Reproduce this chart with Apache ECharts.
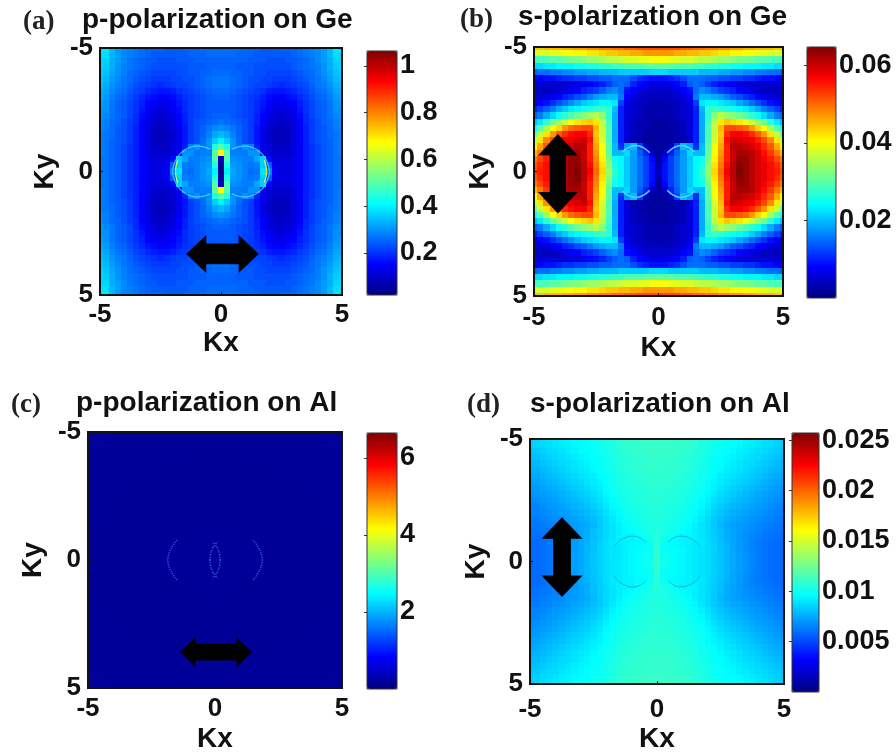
<!DOCTYPE html>
<html><head><meta charset="utf-8">
<style>html,body{margin:0;padding:0;background:#fff}#c{width:896px;height:756px;filter:blur(0.7px)}</style>
<script src="https://cdn.jsdelivr.net/npm/echarts@6/dist/echarts.min.js"></script>
</head><body><div id="c"></div>
<script>
// Values. Each table is the Kx>=0, |Ky| quadrant: rows Ky=5..0, columns Kx=0..5.
// panel a, unit 0.01, step 0.25
const aRows = [
[26,26,26,26,25,25,25,24,24,24,25,25,25,26,27,28,29,31,34,39,38],
[26,26,26,25,25,25,24,24,24,24,24,24,25,26,27,28,29,31,34,38,38],
[25,25,25,25,25,24,24,24,23,23,23,24,24,25,26,27,29,31,33,37,37],
[25,25,25,24,24,24,23,23,23,23,23,23,24,25,26,27,28,30,33,36,37],
[26,26,25,25,24,24,23,23,22,22,22,22,23,24,25,26,28,30,32,35,36],
[27,27,26,25,24,23,23,22,22,21,21,21,22,23,24,26,27,29,31,34,35],
[27,27,26,25,24,23,22,22,21,20,19,20,21,22,23,25,27,28,30,33,34],
[26,26,25,24,23,22,21,20,18,17,17,18,19,21,22,24,26,27,29,32,33],
[25,25,24,23,22,21,20,18,16,15,15,16,17,19,21,23,25,26,28,31,32],
[24,24,24,23,22,21,19,17,15,13,13,14,15,18,20,22,24,25,27,30,31],
[24,24,24,23,22,21,19,16,14,12,11,12,14,17,20,22,24,25,27,30,30],
[25,25,24,23,22,21,18,15,12,11,10,11,13,16,19,22,24,25,27,29,30],
[27,26,25,24,23,21,18,15,12,10,9,10,12,15,19,21,23,25,26,28,29],
[30,29,27,25,23,21,17,13,11,9,8,9,12,15,18,21,23,24,26,28,29],
[34,32,28,25,23,21,17,13,10,8,8,9,11,15,18,21,23,24,26,27,28],
[40,36,30,26,23,21,17,13,10,9,8,9,11,15,18,21,23,24,25,27,28],
[50,44,30,27,30,28,18,13,11,9,9,10,12,15,18,20,22,24,25,27,28],
[68,50,28,28,27,30,30,14,11,10,10,10,12,15,18,20,22,24,25,27,28],
[10,50,30,29,28,28,32,36,16,11,11,11,13,15,18,20,22,24,25,27,27],
[5,44,31,30,28,27,28,36,24,13,12,12,13,15,18,20,22,24,25,27,27],
[3,40,32,30,28,26,27,38,28,14,12,12,13,15,18,20,22,24,25,27,27]];
// panel b, unit 0.001, step 0.25
const bRows = [
[52,52,52,52,51,51,50,50,49,49,48,48,47,47,46,46,45,45,45,44,44],
[47,47,47,46,46,45,45,44,44,43,42,42,41,41,40,40,39,39,38,38,38],
[40,40,39,39,38,38,37,36,36,35,34,34,33,32,32,31,30,30,29,29,28],
[30,30,30,29,29,29,28,28,27,27,26,26,25,25,24,24,24,23,23,22,22],
[22,22,21,21,21,21,21,20,20,20,19,19,18,18,17,17,16,16,15,15,14],
[9,9,10,11,13,15,15,15,14,14,13,13,12,12,11,11,10,9,9,8,8],
[6,6,7,8,10,14,15,14,12,10,9,8,7,6,6,5,5,5,5,5,6],
[5,5,5,6,8,9,15,17,16,14,12,11,10,8,7,6,5,4,4,4,5],
[4,4,4,5,6,8,16,20,20,19,18,16,14,13,11,10,8,7,6,5,5],
[3,3,4,4,5,7,12,23,24,24,23,22,21,19,17,15,13,11,9,8,7],
[3,3,3,4,5,6,10,20,27,28,27,26,25,24,23,21,19,16,14,12,10],
[3,3,3,4,5,6,10,19,27,33,36,34,33,31,29,27,25,22,19,16,14],
[2,2,3,3,4,6,10,19,28,36,42,44,43,42,40,37,34,31,27,23,20],
[2,2,3,3,4,6,10,19,29,37,45,52,52,51,50,47,43,40,35,30,25],
[2,2,2,3,4,6,10,19,29,37,44,54,57,57,56,54,51,47,42,37,31],
[2,2,2,3,3,5,10,19,29,38,45,56,60,59,58,57,55,52,48,42,37],
[2,2,4,12,20,18,11,20,30,40,46,55,61,61,60,59,57,54,51,46,41],
[2,4,10,14,18,22,20,20,30,40,47,55,60,62,62,61,59,56,53,49,45],
[2,8,12,15,18,21,24,25,32,41,48,55,60,63,63,61,59,57,55,52,49],
[3,9,12,15,18,21,24,26,33,42,49,56,61,64,63,61,59,58,56,54,51],
[4,9,12,15,18,21,24,27,34,43,50,57,61,65,63,61,59,58,56,55,52]];
// panel c, unit 0.01, step 0.5
const cRows = [
[16,16,16,16,16,16,16,16,17,17,17],
[16,16,16,16,16,16,16,16,16,17,17],
[15,15,16,16,16,16,16,16,16,16,16],
[15,15,15,15,16,16,16,16,16,16,16],
[15,15,15,15,15,16,16,16,16,16,16],
[15,15,15,15,15,15,15,16,16,16,16],
[15,15,15,15,15,15,15,15,16,16,16],
[16,16,15,15,15,15,15,15,15,16,16],
[16,16,16,15,15,15,15,15,15,15,16],
[16,16,16,16,16,15,15,15,15,15,15],
[16,16,16,16,16,15,15,15,15,15,15]];
// panel d, unit 0.0001, step 0.25
const dRows = [
[110,110,110,110,109,108,107,105,103,101,99,98,97,96,94,93,91,90,88,86,84],
[110,110,110,109,109,108,106,104,102,100,99,97,96,95,93,92,90,88,87,85,83],
[110,110,109,109,108,107,105,104,101,99,98,96,95,93,92,90,88,87,85,83,81],
[109,109,109,108,108,106,105,103,100,98,97,95,94,92,90,88,87,85,83,81,79],
[109,109,108,108,107,106,104,102,100,97,96,94,92,90,88,87,85,83,81,79,77],
[108,108,108,107,106,105,103,101,99,97,95,92,91,89,87,85,83,81,79,77,76],
[108,108,107,107,106,104,102,100,98,96,93,91,89,87,85,83,81,79,77,75,74],
[107,107,107,106,105,104,102,100,97,94,92,89,87,85,83,81,79,77,75,73,72],
[107,107,106,105,104,103,101,99,96,93,90,87,85,83,81,79,77,75,73,71,70],
[106,106,105,105,104,102,100,98,95,91,88,85,83,81,79,77,75,73,71,70,68],
[106,105,105,104,103,101,99,97,93,89,86,83,81,79,77,75,73,71,70,68,67],
[105,105,104,103,102,100,98,95,91,87,84,81,79,77,75,73,71,70,68,66,65],
[105,104,103,102,101,99,96,93,89,85,82,79,77,75,73,71,70,68,66,65,64],
[104,104,103,101,100,98,95,91,87,83,80,77,75,73,71,69,68,66,65,63,62],
[104,103,102,100,99,96,93,90,87,83,79,75,73,71,70,68,66,65,63,62,61],
[105,103,101,99,97,95,92,90,87,83,80,76,73,71,69,67,65,63,62,61,60],
[106,102,99,96,94,94,93,90,87,84,80,76,73,70,68,66,64,62,61,60,59],
[106,100,96,95,94,93,92,91,88,84,81,77,74,71,68,65,63,61,60,59,58],
[107,98,97,96,95,93,91,90,88,85,81,78,74,71,68,65,63,61,60,59,58],
[108,100,98,96,95,93,91,90,88,85,82,78,75,72,69,66,63,61,60,59,58],
[108,101,98,96,95,93,91,90,88,85,82,78,75,72,69,66,63,61,60,59,58]];
// thin bright rims of the two discs, [Kx, Ky] for one quadrant
const aRim = [[0.45,0.9],[0.7,1.0],[1,1.03],[1.3,0.97],[1.6,0.8],[1.82,0.55],[1.97,0.2],[2,0]];
const aGlint = [[1.88,0],[1.86,0.22],[1.78,0.45]];
const bRim = [[0.35,0.75],[0.6,0.95],[0.9,1.04],[1.2,0.97],[1.45,0.78]];
const cRim = [[1.5,0.78],[1.7,0.5],[1.83,0.2],[1.86,0]];
const cSlit = [[0.2,0],[0.17,0.25],[0.1,0.45],[0.03,0.6],[0.1,0.72]];
const dRim = [[0.45,0.8],[0.7,0.98],[0.95,1.03],[1.25,0.97],[1.55,0.78],[1.68,0.6]];
// colour bar ticks and ranges
const aTicks = [0.2,0.4,0.6,0.8,1];
const bTicks = [0.02,0.04,0.06];
const cTicks = [2,4,6];
const dTicks = [0.005,0.01,0.015,0.02,0.025];
const aRange = [0.02,1.064];
const bRange = [0,0.0647];
const cRange = [0,6.65];
const dRange = [0,0.0257];
// arrows: [Kx, Ky, half length, head length, head half width, shaft half width]
const aArrow = [0.06,3.34,1.5,0.83,0.77,0.42];
const bArrow = [-4.04,0.09,1.6,0.87,0.8,0.33];
const cArrow = [0.04,3.6,1.41,0.6,0.59,0.33];
const dArrow = [-3.74,-0.18,1.63,0.88,0.81,0.35];

const jet = ['#000080','#0000ff','#0080ff','#00ffff','#80ff80','#ffff00','#ff8000','#ff0000','#800000'];
const sans = '"Liberation Sans",Arial,sans-serif';
const serif = '"Liberation Serif","Times New Roman",serif';

function cells(rows, step, unit){
  const out = [], n = rows.length - 1;
  rows.forEach((row,i)=>row.forEach((v,j)=>{
    const kx = j*step, ky = (n-i)*step;
    [1,-1].forEach(sx=>{ if(sx<0&&kx===0) return;
      [1,-1].forEach(sy=>{ if(sy<0&&ky===0) return;
        out.push([sx*kx, sy*ky, v*unit, step]);
      });
    });
  }));
  return out;
}
function mirrored(rim, sx, sy){ return rim.map(p=>[sx*p[0], sy*p[1]]); }

const aCyan='rgba(90,220,255,0.75)';
const panels = [
 {letter:'(a)',lx:23,ly:9,title:'p-polarization on Ge',tx:82,ty:6,plot:[100,48,242,247],bar:[367,51,30,244],rows:aRows,step:.25,unit:.01,range:aRange,ticks:aTicks,rims:[[aRim,aCyan],[aGlint,'#d8f040']],rimW:1.2,arrow:aArrow,horiz:true,nameGapX:33,nameGapY:41,marginX:7},
 {letter:'(b)',lx:460,ly:7,title:'s-polarization on Ge',tx:518,ty:3,plot:[534,47,249,249],bar:[807,47,29,251],rows:bRows,step:.25,unit:.001,range:bRange,ticks:bTicks,rims:[[bRim,'#66ccff']],rimW:1.5,arrow:bArrow,horiz:false,nameGapX:38,nameGapY:40,marginX:9},
 {letter:'(c)',lx:11,ly:392,title:'p-polarization on Al',tx:76,ty:389,plot:[88,432,254,256],bar:[367,433,30,256],rows:cRows,step:.5,unit:.01,range:cRange,ticks:cTicks,rims:[[cRim,'#3f66ff'],[cSlit,'#3f66ff']],rimW:1.2,arrow:cArrow,horiz:true,nameGapX:37,nameGapY:41,marginX:8},
 {letter:'(d)',lx:467,ly:392,title:'s-polarization on Al',tx:530,ty:390,plot:[530,439,254,245],bar:[792,433,27,259],rows:dRows,step:.25,unit:.0001,range:dRange,ticks:dTicks,rims:[[dRim,'rgba(40,150,190,0.7)']],rimW:1,arrow:dArrow,horiz:false,nameGapX:41,nameGapY:40,marginX:13}
];

const option = {animation:false,backgroundColor:'#fff',title:[],grid:[],xAxis:[],yAxis:[],visualMap:[],series:[]};
const axisStyle = {show:true,onZero:false,lineStyle:{color:'#111',width:1}};
const label = {show:true,color:'#111',fontFamily:sans,fontWeight:'bold'};

panels.forEach((p,i)=>{
  option.title.push({text:p.letter,left:p.lx,top:p.ly,padding:0,textStyle:{fontFamily:serif,fontWeight:'bold',fontSize:27,color:'#222'}});
  option.title.push({text:p.title,left:p.tx,top:p.ty,padding:0,textStyle:{fontFamily:sans,fontWeight:'bold',fontSize:28,color:'#111'}});
  const g = option.grid.length;
  option.grid.push({left:p.plot[0],top:p.plot[1],width:p.plot[2],height:p.plot[3],show:true,z:10,backgroundColor:'transparent',borderColor:'#111',borderWidth:2});
  option.xAxis.push({gridIndex:g,type:'value',min:-5,max:5,interval:5,z:11,name:'Kx',nameLocation:'middle',nameGap:p.nameGapX,
    nameTextStyle:{fontFamily:sans,fontWeight:'bold',fontSize:28,color:'#111'},
    splitLine:{show:false},axisLine:axisStyle,axisTick:{inside:true,length:3,lineStyle:{color:'#111'}},
    axisLabel:{...label,fontSize:26,margin:p.marginX,formatter:v=>String(v)}});
  option.yAxis.push({gridIndex:g,type:'value',min:-5,max:5,interval:5,inverse:true,z:11,name:'Ky',nameLocation:'middle',nameGap:p.nameGapY,
    nameTextStyle:{fontFamily:sans,fontWeight:'bold',fontSize:28,color:'#111'},
    splitLine:{show:false},axisLine:axisStyle,axisTick:{inside:true,length:3,lineStyle:{color:'#111'}},
    axisLabel:{...label,fontSize:26,margin:7,formatter:v=>String(v)}});
  const b = option.grid.length;
  option.grid.push({left:p.bar[0],top:p.bar[1],width:p.bar[2],height:p.bar[3],show:true,z:10,backgroundColor:'transparent',borderColor:'#333',borderWidth:1});
  option.xAxis.push({gridIndex:b,type:'value',min:0,max:1,show:false});
  option.yAxis.push({gridIndex:b,type:'value',min:p.range[0],max:p.range[1],position:'right',z:11,scale:true,
    splitLine:{show:false},axisLine:{show:false},
    axisTick:{show:true,inside:true,length:3,customValues:p.ticks,lineStyle:{color:'#333'}},
    axisLabel:{...label,fontSize:27,margin:3,customValues:p.ticks,formatter:v=>String(v)}});
  const si = option.series.length;
  option.visualMap.push({type:'continuous',seriesIndex:si,dimension:2,min:p.range[0],max:p.range[1],calculable:false,realtime:false,
    itemWidth:p.bar[2],itemHeight:p.bar[3],left:p.bar[0],top:p.bar[1],padding:0,text:null,showLabel:false,
    inRange:{color:jet},textStyle:{fontSize:0},hoverLink:false});
  option.series.push({type:'custom',name:p.title,xAxisIndex:g,yAxisIndex:g,clip:true,silent:true,progressive:0,
    encode:{x:0,y:1},data:cells(p.rows,p.step,p.unit),
    renderItem:(params,api)=>{
      const x=api.value(0),y=api.value(1),d=api.value(3)/2;
      const a=api.coord([x-d,y-d]),c=api.coord([x+d,y+d]);
      const x0=Math.round(a[0]),x1=Math.round(c[0]),y0=Math.round(Math.min(a[1],c[1])),y1=Math.round(Math.max(a[1],c[1]));
      return {type:'rect',shape:{x:x0,y:y0,width:x1-x0,height:y1-y0},style:{fill:api.visual('color')}};
    }});
  p.rims.forEach(([rim,color])=>{
    [[1,1],[1,-1],[-1,1],[-1,-1]].forEach(s=>{
      option.series.push({type:'line',xAxisIndex:g,yAxisIndex:g,data:mirrored(rim,s[0],s[1]),smooth:true,symbol:'none',silent:true,z:3,
        lineStyle:{color:color,width:p.rimW,type:i===2?'dotted':'solid'}});
    });
  });
  const ar=p.arrow, horiz=p.horiz;
  option.series.push({type:'custom',xAxisIndex:g,yAxisIndex:g,silent:true,z:4,data:[ar],encode:{x:0,y:1},
    renderItem:(params,api)=>{
      const [cx,cy,L,H,W,S]=[0,1,2,3,4,5].map(k=>api.value(k));
      const u=[[-L,0],[-L+H,W],[-L+H,S],[L-H,S],[L-H,W],[L,0],[L-H,-W],[L-H,-S],[-L+H,-S],[-L+H,-W]];
      const pts=u.map(q=>api.coord(horiz?[cx+q[0],cy+q[1]]:[cx+q[1],cy+q[0]]));
      return {type:'polygon',shape:{points:pts},style:{fill:'#000'}};
    }});
});
const chart = echarts.init(document.getElementById('c'),null,{renderer:'canvas'});
chart.setOption(option);
</script></body></html>
